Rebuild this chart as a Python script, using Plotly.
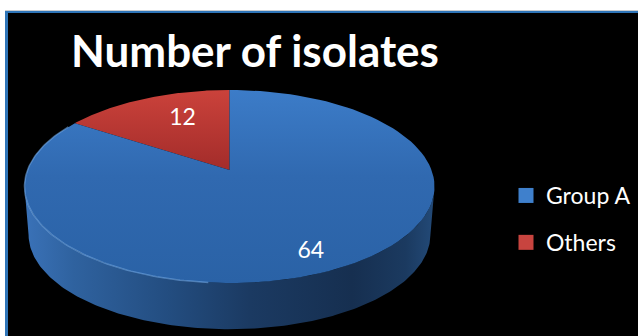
import numpy as np
import plotly.graph_objects as go

# Chart content
title = "Number of isolates"
categories = ["Others", "Group A"]
values = [12, 64]
top_colours = [
    [[0, "#a32c2a"], [1, "#cb423b"]],
    [[0, "#2a62a6"], [0.55, "#3069b0"], [1, "#3c7cc8"]],
]
legend_colours = {"Group A": "#3f80cc", "Others": "#c8443f"}
label_radius = [0.65, 0.84]
label_turn = [5.2, 3.8]

# Tilted disc: how far the back of the disc recedes, and the wall below it
W, H = 638, 336
CX, CY = 229.5, 170.0          # pixel position of the disc centre
SX, SY = 202.0, 93.7           # pixels per disc radius on each axis
RECEDE = 0.171
WALL_SCALE, WALL_DROP = 0.98, 48.5 / SY


def project(turn_deg, radius=1.0):
    """Disc point at a clockwise turn from 12 o'clock, in screen-flat units."""
    t = np.radians(turn_deg)
    u, v = radius * np.sin(t), radius * np.cos(t)
    w = 1 + RECEDE * v
    return u / w, v / w


def arc(a, b, n=120):
    return project(np.linspace(a, b, n))


# Cumulative slice angles from the values
total = sum(values)
edges = np.concatenate([[0], np.cumsum(values)]) * 360.0 / total
# Others runs anticlockwise from the top, Group A takes the remainder
spans = [(360 - edges[1], 360), (0, 360 - edges[1])]

fig = go.Figure()

# Side wall, drawn first so that the top surface covers its back part
turns = np.linspace(100, 260, 200)
low_x, low_y = project(turns)
low_x, low_y = low_x * WALL_SCALE, low_y * WALL_SCALE - WALL_DROP
top_x, top_y = project(turns[::-1])
fig.add_trace(go.Scatter(
    x=np.concatenate([low_x, top_x]), y=np.concatenate([low_y, top_y]),
    mode="lines", line=dict(width=0), fill="toself", showlegend=False, hoverinfo="skip",
    fillgradient=dict(type="horizontal", colorscale=[
        [0, "#3a72b8"], [0.12, "#2f629f"], [0.35, "#234d80"], [0.55, "#1b3a62"],
        [0.8, "#162f50"], [0.93, "#1b3a60"], [1, "#234a78"]]),
))

# Top surface slices
for (a, b), scale in zip(spans, top_colours):
    ax, ay = arc(a, b)
    fig.add_trace(go.Scatter(
        x=np.concatenate([[0], ax, [0]]), y=np.concatenate([[0], ay, [0]]),
        mode="lines", line=dict(width=0), fill="toself", showlegend=False, hoverinfo="skip",
        fillgradient=dict(type="vertical", colorscale=scale),
    ))

# Soft bevel along the left of the front rim
rim_x, rim_y = arc(185, 300)
fig.add_trace(go.Scatter(x=rim_x, y=rim_y, mode="lines", showlegend=False, hoverinfo="skip",
                         line=dict(color="rgba(120,175,235,0.55)", width=1.5)))

# Value labels
mid_turns = [(a + b) / 2 for a, b in spans]
lx, ly = zip(*[project(m + d, r) for m, d, r in zip(mid_turns, label_turn, label_radius)])
fig.add_trace(go.Scatter(x=lx, y=ly, mode="text", text=[str(v) for v in values],
                         textposition="middle center", showlegend=False, hoverinfo="skip",
                         textfont=dict(family="Lato", size=23, color="white")))

# Legend entries
for name in ["Group A", "Others"]:
    fig.add_trace(go.Scatter(x=[None], y=[None], mode="markers", name=name, legendgroup=name,
                             marker=dict(symbol="square", size=15, color=legend_colours[name])))

fig.update_layout(
    width=W, height=H, margin=dict(l=0, r=0, t=0, b=0),
    paper_bgcolor="white", plot_bgcolor="rgba(0,0,0,0)", hovermode=False,
    xaxis=dict(range=[-CX / SX, (W - CX) / SX], visible=False, fixedrange=True),
    yaxis=dict(range=[(CY - H) / SY, CY / SY], visible=False, fixedrange=True),
    shapes=[
        dict(type="rect", xref="paper", yref="paper", layer="below",
             x0=5 / W, x1=1.01, y0=-0.01, y1=1 - 10 / H,
             fillcolor="#c9ccd0", line=dict(width=0)),
        dict(type="rect", xref="paper", yref="paper", layer="below",
             x0=5 / W, x1=1.01, y0=-0.01, y1=1 - 11 / H,
             fillcolor="#2f75b8", line=dict(width=0)),
        dict(type="rect", xref="paper", yref="paper", layer="below",
             x0=8 / W, x1=1.01, y0=-0.01, y1=1 - 13 / H,
             fillcolor="black", line=dict(width=0)),
    ],
    annotations=[dict(text=f"<b>{title}</b>", xref="paper", yref="paper",
                      x=255 / W, y=1 - 50 / H, xanchor="center", yanchor="middle", showarrow=False,
                      font=dict(family="Lato", size=44, color="white"))],
    legend=dict(x=506 / W, y=1 - 174 / H, xanchor="left", yanchor="top",
                bgcolor="rgba(0,0,0,0)", font=dict(family="Lato", size=23, color="white"),
                tracegroupgap=14, itemclick=False, itemdoubleclick=False),
)

fig.write_html("out.html", config=dict(displayModeBar=False))
